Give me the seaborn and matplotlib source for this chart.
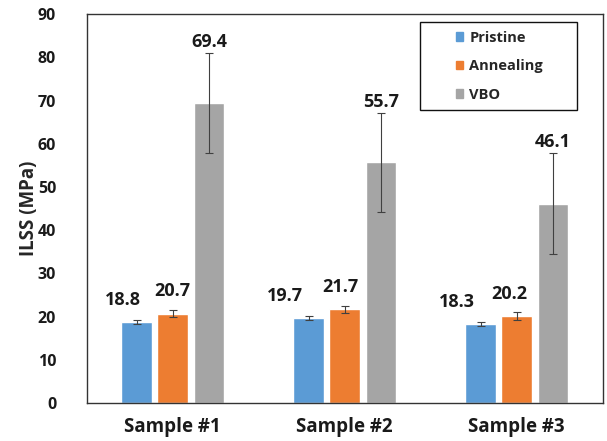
import numpy as np
import pandas as pd
import matplotlib
matplotlib.use("Agg")
import matplotlib.pyplot as plt
import matplotlib.patches as mpatches
import seaborn as sns

# data
samples = ["Sample #1", "Sample #2", "Sample #3"]
series = ["Pristine", "Annealing", "VBO"]
pristine = [18.8, 19.7, 18.3]
annealing = [20.7, 21.7, 20.2]
vbo = [69.4, 55.7, 46.1]
pristine_err = [0.45, 0.45, 0.45]
annealing_err = [0.8, 0.85, 0.9]
vbo_err = [11.6, 11.5, 11.7]
colors = ["#5B9BD5", "#ED7D31", "#A5A5A5"]

# data labels were nudged by hand in the original (x shift, points)
label_dx = {"Pristine": [-10, -17, -17], "Annealing": [0, -3, -5], "VBO": [0, 0, 0]}

df = pd.DataFrame({
    "sample": samples * 3,
    "series": np.repeat(series, 3),
    "ilss": pristine + annealing + vbo,
    "err": pristine_err + annealing_err + vbo_err,
})

sns.set_style("white")
plt.rcParams["font.family"] = ["Open Sans", "DejaVu Sans"]

fig = plt.figure(figsize=(6.07, 4.41), dpi=100)
ax = fig.add_axes([0.143, 0.086, 0.850, 0.882])

sns.barplot(data=df, x="sample", y="ilss", hue="series", palette=colors,
            saturation=1, width=0.63, gap=0.15, errorbar=None, ax=ax, legend=False)

for cont, s in zip(ax.containers, series):
    sub = df[df["series"] == s]
    xs = [b.get_x() + b.get_width() / 2 for b in cont]
    ax.errorbar(xs, sub["ilss"], yerr=sub["err"], fmt="none",
                ecolor="#404040", elinewidth=0.8, capsize=3, capthick=0.8)
    for x, v, e, dx in zip(xs, sub["ilss"], sub["err"], label_dx[s]):
        if s == "VBO":
            y, dy = v + e, 8
        else:
            y, dy = v, 16
        ax.annotate(f"{v:.1f}", (x, y), xytext=(dx, dy),
                    textcoords="offset points", ha="center", va="center",
                    fontsize=13, fontweight="bold", color="#1a1a1a")

ax.set_ylim(0, 90)
ax.set_xlim(-0.5, 2.5)
ax.set_yticks(range(0, 91, 10))
ax.set_xlabel("")
ax.set_ylabel("ILSS (MPa)", fontsize=13.5, fontweight="bold", labelpad=-1)
ax.tick_params(axis="y", length=0, labelsize=11.5, pad=22)
ax.tick_params(axis="x", length=0, labelsize=13.5, pad=10)
for lab in ax.get_xticklabels() + ax.get_yticklabels():
    lab.set_fontweight("bold")
    lab.set_color("#1a1a1a")
for sp in ax.spines.values():
    sp.set_color("#333333")
    sp.set_linewidth(1.0)

# legend with its own frame box
ax.add_patch(mpatches.Rectangle((0.645, 0.753), 0.306, 0.226, transform=ax.transAxes,
                                fill=False, edgecolor="#111111", linewidth=1.0, zorder=5))
handles = [mpatches.Patch(color=c, label=s) for c, s in zip(colors, series)]
leg = ax.legend(handles=handles, loc="center", bbox_to_anchor=(0.800, 0.866),
                frameon=False, handlelength=0.5, handleheight=0.5,
                handletextpad=0.4, labelspacing=1.0,
                prop={"size": 10.5, "weight": "bold"})

fig.savefig("out.png", dpi=100)
